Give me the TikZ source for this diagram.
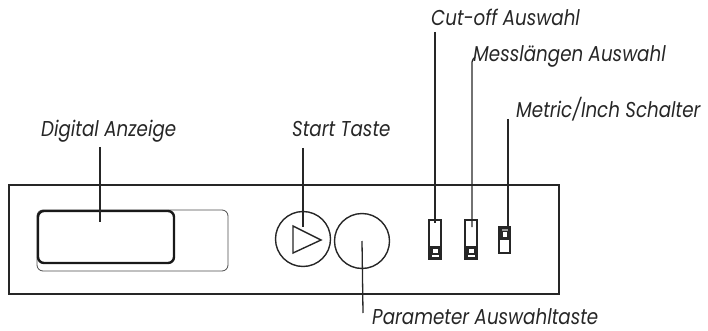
\documentclass[tikz,border=0pt]{standalone}
\usepackage{fontspec}
\setmainfont{Poppins}[FakeStretch=0.85]
\begin{document}
\begin{tikzpicture}[x=1pt,y=-1pt,
  panel/.style={draw=black!85,line width=1.8pt},
  leader/.style={draw=black!85,line width=1.3pt},
  knob/.style={draw=black!85,line width=1.4pt},
  lbl/.style={anchor=base west,inner sep=0pt,font=\fontsize{21.5}{24}\selectfont\itshape,text=black!85},
  frame/.style={draw=black!85,line width=1.6pt,fill=white},
  slider/.style={fill=black!85}]
\useasboundingbox (0,0) rectangle (708,331);

% front panel
\draw[panel] (9,185) rectangle (559,294);

% display window
\draw[draw=black!70,line width=0.8pt,rounded corners=6pt] (37,210) rectangle (228,271);
\node[draw=black!90,line width=2.4pt,rounded corners=6pt,fill=white,
      minimum width=136pt,minimum height=52pt,inner sep=0pt] (disp) at (106,237) {};
\coordinate (dispin) at (100,222);

% start key and parameter key
\node[knob,circle,minimum size=55pt,inner sep=0pt] (start) at (303,239) {};
\draw[knob,line join=miter] (293,226) -- (321,240) -- (293,253) -- cycle;
\coordinate (startin) at (303,227);
\node[knob,circle,minimum size=55pt,inner sep=0pt] (param) at (362,241) {};

% slide switches
\draw[frame] (429,220) rectangle (441,259);
\fill[slider] (429,246) rectangle (441,259);
\fill[white] (432.5,248.5) rectangle (437.5,253);
\fill[white] (431.5,254.5) rectangle (438.5,256.5);
\coordinate (sw1) at (435,223);

\draw[frame] (465,220) rectangle (477,259);
\fill[slider] (465,246) rectangle (477,259);
\fill[white] (468.5,248.5) rectangle (473.5,253);
\fill[white] (467.5,254.5) rectangle (474.5,256.5);
\coordinate (sw2) at (472,227);

\draw[frame] (499,227) rectangle (510,253);
\fill[slider] (499,227) rectangle (510,240);
\fill[white] (502.5,232) rectangle (506.5,237);
\fill[black!40] (501.5,229) rectangle (507.5,230.5);
\coordinate (sw3) at (508,227);

% labels
\node[lbl] (tdisp) at (41,136) {Digital Anzeige};
\node[lbl] (tstart) at (292,136) {Start Taste};
\node[lbl] (tcut) at (431,26) {Cut-off Auswahl};
\node[lbl] (tmess) at (473,62) {Messlängen Auswahl};
\node[lbl] (tmet) at (516,118) {Metric/Inch Schalter};
\node[lbl] (tpar) at (372,324) {Parameter Auswahltaste};

% leader lines
\coordinate (ldisp) at (100,147);
\coordinate (lstart) at (303,148);
\coordinate (lcut) at (435,32);
\coordinate (lmess) at (475,57);
\coordinate (lmet) at (508,119);
\coordinate (lpar) at (363,313);
\draw[leader] (ldisp) -- (dispin);
\draw[leader] (lstart) -- (startin);
\draw[leader] (lcut) -- (sw1);
\draw[leader] (sw2) -- (472,62) to[out=90,in=235] (lmess);
\draw[leader] (lmet) -- (sw3);
\draw[leader] (param.center) -- (lpar);
\end{tikzpicture}
\end{document}
